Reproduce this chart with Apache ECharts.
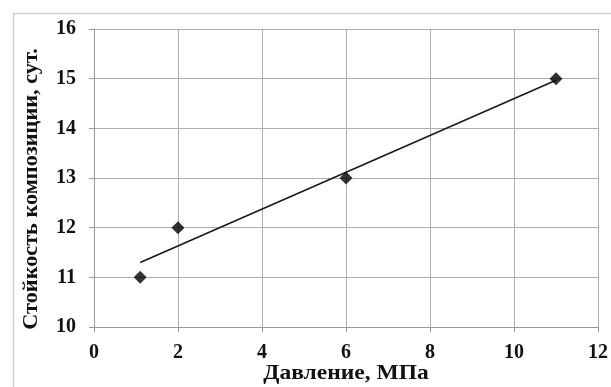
<!DOCTYPE html>
<html>
<head>
<meta charset="utf-8">
<script src="https://cdn.jsdelivr.net/npm/echarts@6/dist/echarts.min.js"></script>
<style>html,body{margin:0;padding:0;background:#fff}#c{width:611px;height:387px}</style>
</head>
<body>
<div id="c"></div>
<script>
// Data
const pressureX = [1.1, 2, 6, 11];
const durabilityY = [11, 12, 13, 15];
const trendX = [1.1, 11];
const trendY = [11.3, 14.97];
const xTicks = [0, 2, 4, 6, 8, 10, 12];
const yTicks = [10, 11, 12, 13, 14, 15, 16];
const xTitle = 'Давление, МПа';
const yTitle = 'Стойкость композиции, сут.';

const font = '"Liberation Serif", "DejaVu Serif", serif';
const chart = echarts.init(document.getElementById('c'), null, {renderer: 'canvas'});
chart.setOption({
  backgroundColor: '#fff',
  animation: false,
  graphic: [
    {
      type: 'rect', left: 11, top: 11, silent: true,
      shape: {width: 700, height: 400},
      style: {fill: 'none', stroke: '#cfcfcf', lineWidth: 1.5}
    },
    {
      type: 'text', x: 346, y: 374, scaleX: 1.12, silent: true,
      style: {text: xTitle, fontFamily: font, fontWeight: 'bold', fontSize: 21, fill: '#111',
              align: 'center', verticalAlign: 'middle'}
    },
    {
      type: 'text', x: 32, y: 189, rotation: Math.PI / 2, scaleX: 1.06, silent: true,
      style: {text: yTitle, fontFamily: font, fontWeight: 'bold', fontSize: 21, fill: '#111',
              align: 'center', verticalAlign: 'middle'}
    }
  ],
  grid: {left: 94, right: 10, top: 29, bottom: 60, containLabel: false},
  xAxis: {
    type: 'value', min: xTicks[0], max: xTicks[xTicks.length - 1], interval: 2,
    axisLine: {show: true, lineStyle: {color: '#9a9a9a', width: 1}},
    axisTick: {show: true, length: 5, lineStyle: {color: '#9a9a9a'}},
    axisLabel: {fontFamily: font, fontWeight: 'bold', fontSize: 20, color: '#111', margin: 16},
    splitLine: {show: true, lineStyle: {color: '#adadad', width: 1}}
  },
  yAxis: {
    type: 'value', min: yTicks[0], max: yTicks[yTicks.length - 1], interval: 1,
    axisLine: {show: true, lineStyle: {color: '#9a9a9a', width: 1}},
    axisTick: {show: true, length: 5, lineStyle: {color: '#9a9a9a'}},
    axisLabel: {fontFamily: font, fontWeight: 'bold', fontSize: 20, color: '#111', margin: 18},
    splitLine: {show: true, lineStyle: {color: '#adadad', width: 1}}
  },
  series: [
    {
      type: 'line', data: trendX.map((x, i) => [x, trendY[i]]),
      showSymbol: false, symbol: 'none',
      lineStyle: {color: '#1a1a1a', width: 1.6}, z: 2
    },
    {
      type: 'scatter', data: pressureX.map((x, i) => [x, durabilityY[i]]),
      symbol: 'diamond', symbolSize: 13,
      itemStyle: {color: '#000'}, z: 3
    }
  ]
});
</script>
</body>
</html>
